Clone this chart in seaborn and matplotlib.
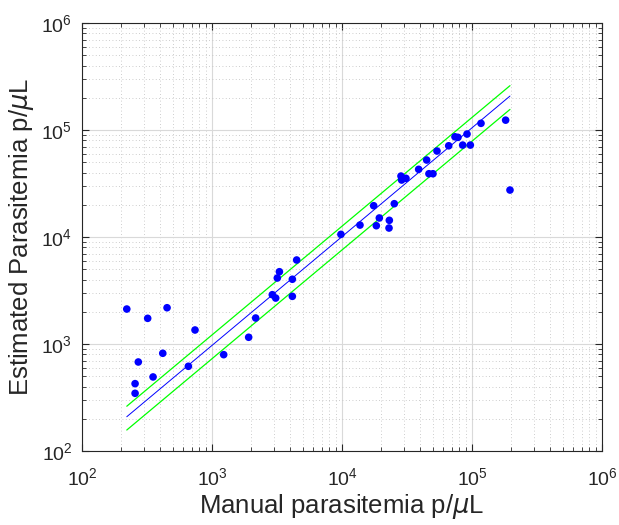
import matplotlib
matplotlib.use("Agg")
import matplotlib.pyplot as plt
import pandas as pd
import seaborn as sns

# Data (manual vs estimated parasitemia, p/uL)
manual = [221, 320, 451, 740, 418, 271, 658, 352, 256, 256,
          1230, 1914, 2167, 2910, 3090, 4150, 3300, 3180, 4150, 4480,
          9810, 13750, 17530, 18370, 19370, 23130, 23000, 25250, 28430, 28750,
          31050, 38880, 44800, 46650, 50100, 53800, 66200, 74000, 78000, 84800,
          91600, 97100, 117300, 181500, 196000]
estimated = [2123, 1738, 2183, 1352, 819, 679, 619, 492, 426, 346,
             795, 1156, 1750, 2890, 2690, 2790, 4740, 4140, 4030, 6100,
             10590, 12940, 19620, 12760, 15070, 14330, 12140, 20490, 37150, 34120,
             35400, 42960, 52480, 39060, 39060, 63700, 71300, 86500, 85500, 72400,
             91800, 72400, 115600, 123800, 27500]

# Regression line and +/-25% bounds (end points)
fit_x = [221, 196000]
fit_y = [209, 208000]
upper_y = [262, 260000]
lower_y = [157, 156000]

points = pd.DataFrame({"manual": manual, "estimated": estimated})
lines = pd.DataFrame({"x": fit_x, "fit": fit_y, "upper": upper_y, "lower": lower_y})

sns.set_style("ticks")
plt.rcParams["font.family"] = ["Liberation Sans", "DejaVu Sans"]
plt.rcParams["mathtext.fontset"] = "dejavusans"

dark = "#262626"
fig = plt.figure(figsize=(6.19, 5.25), dpi=100)
ax = fig.add_axes([0.1325, 0.141, 0.84, 0.815])

sns.lineplot(data=lines, x="x", y="upper", color="#00ff00", linewidth=0.9, ax=ax)
sns.lineplot(data=lines, x="x", y="lower", color="#00ff00", linewidth=0.9, ax=ax)
sns.lineplot(data=lines, x="x", y="fit", color="#0000ff", linewidth=0.7, ax=ax)
sns.scatterplot(data=points, x="manual", y="estimated", color="#0000ff",
                s=30, edgecolor="none", ax=ax, zorder=5)

ax.set_xscale("log")
ax.set_yscale("log")
ax.set_xlim(1e2, 1e6)
ax.set_ylim(1e2, 1e6)

ax.grid(True, which="major", color="#d9d9d9", linewidth=0.8, linestyle="-")
ax.grid(True, which="minor", color="#bdbdbd", linewidth=0.6, linestyle=(0, (1, 3)))
ax.set_axisbelow(True)

for side in ["top", "right", "left", "bottom"]:
    ax.spines[side].set_visible(True)
    ax.spines[side].set_color(dark)
    ax.spines[side].set_linewidth(0.8)

ax.tick_params(which="both", direction="in", top=True, right=True, colors=dark,
               labelsize=14, labelcolor=dark)
ax.tick_params(which="major", length=5, width=0.8)
ax.tick_params(which="minor", length=3, width=0.6)
ax.tick_params(axis="x", pad=12)
ax.tick_params(axis="y", pad=7)

ax.set_xlabel(r"Manual parasitemia p/$\mu$L", fontsize=18.5, color=dark, labelpad=2)
ax.set_ylabel(r"Estimated Parasitemia p/$\mu$L", fontsize=18.5, color=dark, labelpad=4)

fig.savefig("out.png", dpi=100)
